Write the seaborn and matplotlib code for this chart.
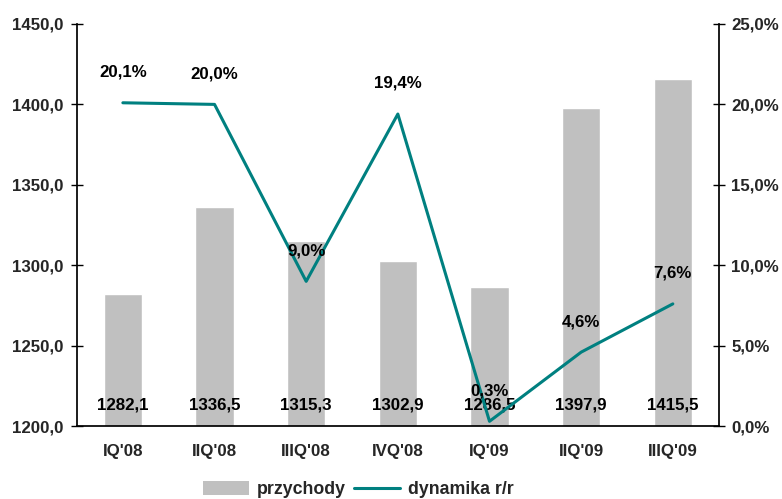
import matplotlib
matplotlib.use("Agg")
import matplotlib.pyplot as plt
import seaborn as sns
import pandas as pd
import numpy as np
from matplotlib.ticker import FuncFormatter
from matplotlib.patches import Patch
from matplotlib.lines import Line2D

quarters = ["IQ'08", "IIQ'08", "IIIQ'08", "IVQ'08", "IQ'09", "IIQ'09", "IIIQ'09"]
przychody = [1282.1, 1336.5, 1315.3, 1302.9, 1286.5, 1397.9, 1415.5]
dynamika = [20.1, 20.0, 9.0, 19.4, 0.3, 4.6, 7.6]

sns.set_theme(style="white")
plt.rcParams['font.family'] = ['Liberation Sans', 'DejaVu Sans']
plt.rcParams['font.weight'] = 'bold'

FS = 12.2
df = pd.DataFrame({"q": quarters, "p": przychody, "d": dynamika, "x": np.arange(len(quarters))})

fig = plt.figure(figsize=(7.82, 4.99), dpi=100)
ax = fig.add_axes([0.0985, 0.146, 0.8205, 0.806])
sns.barplot(data=df, x="q", y="p", color="#c0c0c0", width=0.42, saturation=1, ax=ax)
ax.set_ylim(1200, 1450)
ax.set_yticks(np.arange(1200, 1451, 50))
ax.yaxis.set_major_formatter(FuncFormatter(lambda v, p: f"{v:.1f}".replace(".", ",")))
ax.set_xlim(-0.5, len(quarters) - 0.5)
ax.set_xlabel("")
ax.set_ylabel("")
ax.set_xticks(np.arange(len(quarters)))
ax.set_xticklabels(quarters, fontsize=FS, fontweight="bold")
ax.set_xticks(np.arange(-0.5, len(quarters), 1), minor=True)
ax.tick_params(axis="x", which="major", length=0, pad=13)
ax.tick_params(axis="x", which="minor", length=5, direction="out", color="black", width=1)
ax.tick_params(axis="y", length=8, direction="inout", color="black", width=1, labelsize=FS, pad=6)
for lab in ax.get_yticklabels():
    lab.set_fontweight("bold")
for s in ["top", "right"]:
    ax.spines[s].set_visible(False)
ax.spines["left"].set_color("black")
ax.spines["bottom"].set_color("black")

for i, v in enumerate(przychody):
    ax.text(i, 1213, f"{v:.1f}".replace(".", ","), ha="center", va="center", fontsize=FS, fontweight="bold", color="black")

ax2 = ax.twinx()
sns.lineplot(data=df, x="x", y="d", color="#008080", linewidth=2.2, ax=ax2)
ax2.set_ylim(0, 25)
ax2.set_yticks(np.arange(0, 26, 5))
ax2.yaxis.set_major_formatter(FuncFormatter(lambda v, p: f"{v:.1f}%".replace(".", ",")))
ax2.set_xlim(-0.5, len(quarters) - 0.5)
ax2.set_xlabel("")
ax2.set_ylabel("")
ax2.tick_params(axis="y", length=8, direction="inout", color="black", width=1, labelsize=FS, pad=5)
for lab in ax2.get_yticklabels():
    lab.set_fontweight("bold")
for s in ["top", "left", "bottom"]:
    ax2.spines[s].set_visible(False)
ax2.spines["right"].set_color("black")

for i, v in enumerate(dynamika):
    ax2.annotate(f"{v:.1f}%".replace(".", ","), (i, v), xytext=(0, 22), textcoords="offset points",
                 ha="center", va="center", fontsize=FS, fontweight="bold", color="black")

handles = [Patch(facecolor="#c0c0c0", edgecolor="none"),
           Line2D([0], [0], color="#008080", linewidth=2.2)]
fig.legend(handles, ["przychody", "dynamika r/r"], loc="lower center", bbox_to_anchor=(0.458, -0.031),
           ncol=2, frameon=False, prop={"size": 12.8, "weight": "bold"}, handlelength=2.6, columnspacing=0.5,
           handletextpad=0.4, handleheight=0.8)

fig.savefig("out.png", dpi=100)
